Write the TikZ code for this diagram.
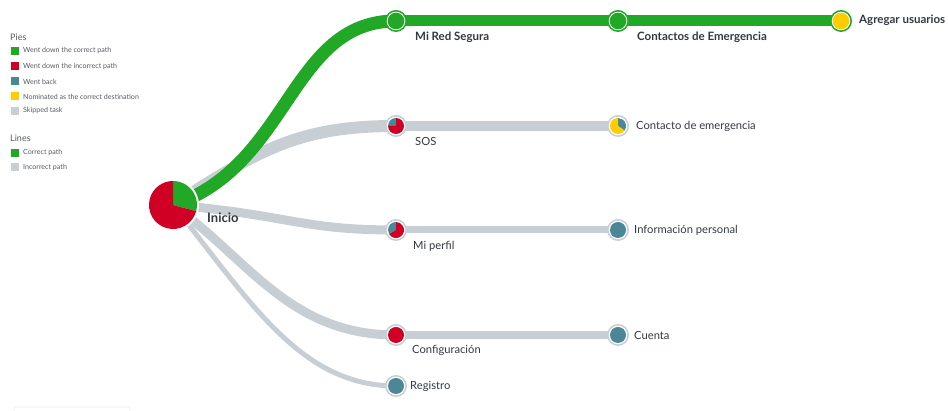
\documentclass[tikz,border=0pt]{standalone}
\usepackage{fontspec}
\setmainfont{Lato}
\definecolor{okgreen}{HTML}{22A827}
\definecolor{badred}{HTML}{CF0023}
\definecolor{backteal}{HTML}{4B8797}
\definecolor{pickyellow}{HTML}{FFCC00}
\definecolor{skipgray}{HTML}{C9CED2}
\definecolor{pathgray}{HTML}{C8CFD4}
\definecolor{labeltext}{HTML}{333840}
\definecolor{legendtext}{HTML}{555A60}
% filled wedge: centre, start angle, end angle, radius, colour
\newcommand\piewedge[5]{\fill[#5] (#1) -- ++(#2:#4) arc[start angle=#2,end angle=#3,radius=#4] -- cycle;}
% ringed step marker: centre, ring colour
\newcommand\ringdisc[2]{\fill[#2] (#1) circle[radius=11pt]; \fill[white] (#1) circle[radius=9.3pt];}
\tikzset{
  greenline/.style={draw=okgreen, line cap=butt},
  grayline/.style={draw=pathgray, line cap=butt},
  steplabel/.style={font=\fontsize{11.2}{13}\selectfont, text=labeltext, inner sep=0pt},
  mainlabel/.style={steplabel, font=\fontsize{11.5}{13}\selectfont\bfseries},
  startlabel/.style={steplabel, font=\fontsize{13}{15}\selectfont\bfseries},
  legendhead/.style={font=\fontsize{9}{11}\selectfont, text=legendtext, anchor=west, inner sep=0pt},
  legenditem/.style={font=\fontsize{7.1}{9}\selectfont, text=legendtext, anchor=west, inner sep=0pt},
  legendsq/.style={minimum size=8pt, inner sep=0pt, anchor=west}
}
\begin{document}
\begin{tikzpicture}[x=1pt,y=1pt]
\useasboundingbox (0,0) rectangle (948,411);

% step positions
\coordinate (inicio) at (173,206);
\coordinate (redsegura) at (396,390);
\coordinate (contactos) at (618,390);
\coordinate (agregar) at (841,390);
\coordinate (sos) at (396,285);
\coordinate (contacto) at (618,285);
\coordinate (perfil) at (396,181);
\coordinate (info) at (618,181);
\coordinate (config) at (396,76);
\coordinate (cuenta) at (618,76);
\coordinate (registro) at (396,25);

% incorrect paths
\draw[grayline, line width=12pt] (inicio) .. controls (260,262) and (300,285) .. (sos);
\draw[grayline, line width=10pt] (sos) -- (contacto);
\draw[grayline, line width=9pt] (inicio) .. controls (290,196) and (300,181) .. (perfil);
\draw[grayline, line width=7pt] (perfil) -- (info);
\draw[grayline, line width=9pt] (inicio) .. controls (250,150) and (290,76) .. (config);
\draw[grayline, line width=7.5pt] (config) -- (cuenta);
\draw[grayline, line width=5pt] (inicio) .. controls (250,110) and (300,25) .. (registro);

% correct path
\draw[greenline, line width=13pt] (inicio) .. controls (290,245) and (290,390) .. (redsegura);
\draw[greenline, line width=11pt] (redsegura) -- (agregar);

% start pie
\fill[white] (inicio) circle[radius=26pt];
\piewedge{inicio}{90}{-15}{24pt}{okgreen}
\piewedge{inicio}{-15}{-270}{24pt}{badred}
\node[startlabel, anchor=west] (inicioL) at (207,193) {Inicio};

% correct steps
\ringdisc{redsegura}{okgreen}
\fill[okgreen] (redsegura) circle[radius=8.3pt];
\ringdisc{contactos}{okgreen}
\fill[okgreen] (contactos) circle[radius=8.3pt];
\ringdisc{agregar}{okgreen}
\fill[pickyellow] (agregar) circle[radius=8.3pt];
\node[mainlabel, anchor=west] (redseguraL) at (415,374) {Mi Red Segura};
\node[mainlabel, anchor=west] (contactosL) at (637,374) {Contactos de Emergencia};
\node[mainlabel, anchor=west] (agregarL) at (859,391) {Agregar usuarios};

% other steps
\ringdisc{sos}{pathgray}
\piewedge{sos}{90}{180}{8pt}{backteal}
\piewedge{sos}{180}{450}{8pt}{badred}
\ringdisc{contacto}{pathgray}
\piewedge{contacto}{-35}{90}{8pt}{backteal}
\piewedge{contacto}{90}{325}{8pt}{pickyellow}
\ringdisc{perfil}{pathgray}
\piewedge{perfil}{90}{210}{8pt}{backteal}
\piewedge{perfil}{210}{450}{8pt}{badred}
\ringdisc{info}{pathgray}
\fill[backteal] (info) circle[radius=8pt];
\ringdisc{config}{pathgray}
\fill[badred] (config) circle[radius=8pt];
\ringdisc{cuenta}{pathgray}
\fill[backteal] (cuenta) circle[radius=8pt];
\ringdisc{registro}{pathgray}
\fill[backteal] (registro) circle[radius=8pt];

\node[steplabel, anchor=west] (sosL) at (415,270) {SOS};
\node[steplabel, anchor=west] (contactoL) at (636,285) {Contacto de emergencia};
\node[steplabel, anchor=west] (perfilL) at (413,165) {Mi perfil};
\node[steplabel, anchor=west] (infoL) at (634,181) {Información personal};
\node[steplabel, anchor=west] (configL) at (412,61) {Configuración};
\node[steplabel, anchor=west] (cuentaL) at (634,76) {Cuenta};
\node[steplabel, anchor=west] (registroL) at (410,25) {Registro};

% legend
\node[legendhead] (pies) at (10,374) {Pies};
\node[legendsq, fill=okgreen] (sq1) at (11,360) {};
\node[legenditem] at (23,360) {Went down the correct path};
\node[legendsq, fill=badred] (sq2) at (11,344.5) {};
\node[legenditem] at (23,344.5) {Went down the incorrect path};
\node[legendsq, fill=backteal] (sq3) at (11,329.5) {};
\node[legenditem] at (23,329.5) {Went back};
\node[legendsq, fill=pickyellow] (sq4) at (11,314.5) {};
\node[legenditem] at (23,314.5) {Nominated as the correct destination};
\node[legendsq, fill=skipgray] (sq5) at (11,300) {};
\node[legenditem] at (23,300) {Skipped task};
\node[legendhead] (lines) at (10,273) {Lines};
\node[legendsq, fill=okgreen] (sq6) at (11,258) {};
\node[legenditem] at (23,258) {Correct path};
\node[legendsq, fill=skipgray] (sq7) at (11,243.5) {};
\node[legenditem] at (23,243.5) {Incorrect path};

% panel edge along the bottom
\draw[draw=black!7, line width=0.6pt, rounded corners=2pt] (14,-10) rectangle (130,4);
\end{tikzpicture}
\end{document}
